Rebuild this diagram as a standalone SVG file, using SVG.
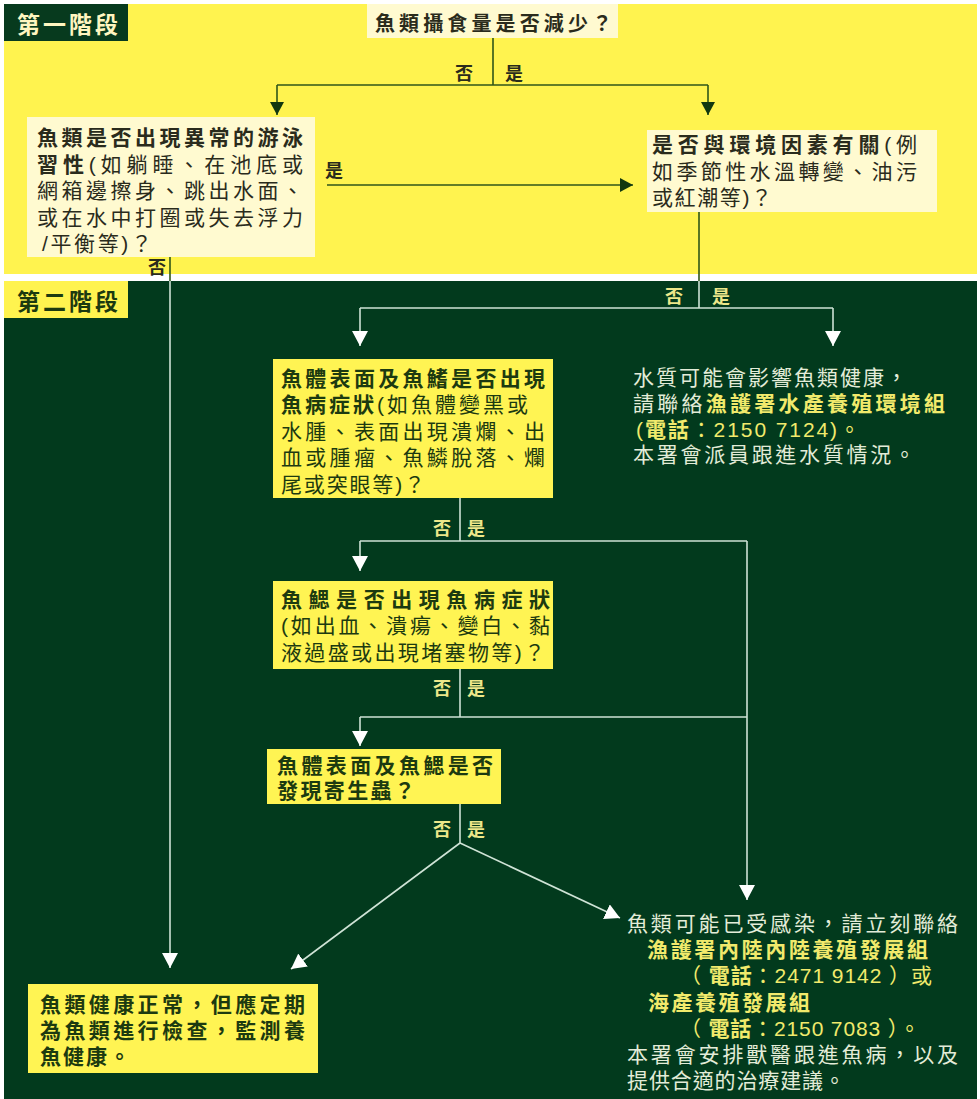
<svg xmlns="http://www.w3.org/2000/svg" width="980" height="1099" viewBox="0 0 980 1099">
<style>
.t{font-family:"Liberation Sans","Noto Sans CJK TC",sans-serif;font-size:21px;}
.b{font-weight:bold;}
.dk{fill:#2a2b1c;}
.gk{fill:#1c3a10;}
.pl{fill:#e3ecd8;}
.yl{fill:#f1ea6c;}
.lbly{font-family:"Liberation Sans","Noto Sans CJK TC",sans-serif;font-size:18px;font-weight:bold;fill:#2a2b1c;}
.lbld{font-family:"Liberation Sans","Noto Sans CJK TC",sans-serif;font-size:18px;font-weight:bold;fill:#ece78a;}
.cd{stroke:#2f5518;stroke-width:1.6;fill:none;}
.cw{stroke:#cfe3d6;stroke-width:1.6;fill:none;}
.cream{fill:#fffad0;}
.ybox{fill:#fff453;}
</style>
<defs>
<marker id="ad" markerUnits="userSpaceOnUse" markerWidth="14" markerHeight="14" refX="13" refY="7" orient="auto"><path d="M0,0 L13,7 L0,14 z" fill="#12380f"/></marker>
<marker id="aw" markerUnits="userSpaceOnUse" markerWidth="16" markerHeight="16" refX="15" refY="8" orient="auto"><path d="M0,0 L15,8 L0,16 z" fill="#ffffff"/></marker>
</defs>
<rect width="980" height="1099" fill="#ffffff"/>
<rect x="4" y="4" width="973" height="270" fill="#fff34f"/>
<rect x="4" y="281" width="973" height="818" fill="#023a1d"/>

<g id="stage1">
<rect x="4" y="4" width="124" height="37" fill="#073a1e"/>
<text x="17" y="33" class="t b" style="font-size:23px;fill:#fff6c0" textLength="101" lengthAdjust="spacing">第一階段</text>
</g>
<g id="stage2">
<rect x="4" y="281" width="124" height="37" fill="#fff34f"/>
<text x="17" y="310" class="t b" style="font-size:23px;fill:#1c3a10" textLength="101" lengthAdjust="spacing">第二階段</text>
</g>

<g id="connectors">
<path class="cd" d="M493,38 V85"/>
<path class="cd" d="M277,85 H708"/>
<path class="cd" d="M277,85 V115" marker-end="url(#ad)"/>
<path class="cd" d="M708,85 V115" marker-end="url(#ad)"/>
<path class="cd" d="M327,185 H633" marker-end="url(#ad)"/>
<path class="cd" d="M170,245 V281"/>
<path class="cw" d="M170,281 V968" marker-end="url(#aw)"/>
<path class="cd" d="M699,212 V281"/>
<path class="cw" d="M699,281 V308"/>
<path class="cw" d="M360,308 H833"/>
<path class="cw" d="M360,308 V346" marker-end="url(#aw)"/>
<path class="cw" d="M833,308 V346" marker-end="url(#aw)"/>
<path class="cw" d="M460,498 V541"/>
<path class="cw" d="M360,541 H747"/>
<path class="cw" d="M360,541 V571" marker-end="url(#aw)"/>
<path class="cw" d="M747,541 V900" marker-end="url(#aw)"/>
<path class="cw" d="M460,669 V717"/>
<path class="cw" d="M360,717 H747"/>
<path class="cw" d="M360,717 V746" marker-end="url(#aw)"/>
<path class="cw" d="M460,804 V843"/>
<path class="cw" d="M460,843 L291,969" marker-end="url(#aw)"/>
<path class="cw" d="M460,843 L620,918" marker-end="url(#aw)"/>
<text x="455" y="80" class="lbly">否</text>
<text x="505" y="80" class="lbly">是</text>
<text x="325" y="177" class="lbly">是</text>
<text x="148" y="274" class="lbly">否</text>
<text x="665" y="303" class="lbld">否</text>
<text x="712" y="303" class="lbld">是</text>
<text x="433" y="535" class="lbld">否</text>
<text x="467" y="535" class="lbld">是</text>
<text x="433" y="695" class="lbld">否</text>
<text x="467" y="695" class="lbld">是</text>
<text x="433" y="836" class="lbld">否</text>
<text x="467" y="836" class="lbld">是</text>
</g>

<g id="q-intake">
<rect x="367" y="4" width="251" height="34" class="cream"/>
<text x="375" y="31" class="t b dk" style="font-size:20px" textLength="237" lengthAdjust="spacing">魚類攝食量是否減少？</text>
</g>

<g id="q-swim">
<rect x="27" y="117" width="288" height="140" class="cream"/>
<text x="37" y="145" class="t b dk" textLength="266" lengthAdjust="spacing">魚類是否出現異常的游泳</text>
<text x="37" y="172" class="t dk" textLength="266" lengthAdjust="spacing"><tspan class="b">習性</tspan>(如躺睡、在池底或</text>
<text x="37" y="198" class="t dk" textLength="266" lengthAdjust="spacing">網箱邊擦身、跳出水面、</text>
<text x="37" y="225" class="t dk" textLength="266" lengthAdjust="spacing">或在水中打圈或失去浮力</text>
<text x="42" y="251" class="t dk" textLength="110" lengthAdjust="spacing">/平衡等)？</text>
</g>

<g id="q-env">
<rect x="647" y="130" width="290" height="82" class="cream"/>
<text x="652" y="152" class="t dk" textLength="265" lengthAdjust="spacing"><tspan class="b">是否與環境因素有關</tspan>(例</text>
<text x="652" y="179" class="t dk" textLength="265" lengthAdjust="spacing">如季節性水溫轉變、油污</text>
<text x="652" y="205" class="t dk" textLength="120" lengthAdjust="spacing">或紅潮等)？</text>
</g>

<g id="water-quality">
<text x="633" y="385" class="t pl" textLength="274" lengthAdjust="spacing">水質可能會影響魚類健康，</text>
<text x="633" y="411" class="t pl" textLength="312" lengthAdjust="spacing">請聯絡<tspan class="b yl">漁護署水產養殖環境組</tspan></text>
<text x="636" y="437" class="t yl" textLength="224" lengthAdjust="spacing">(<tspan class="b">電話</tspan>：2150 7124)。</text>
<text x="633" y="462" class="t pl" textLength="282" lengthAdjust="spacing">本署會派員跟進水質情況。</text>
</g>

<g id="q-skin">
<rect x="273" y="359" width="280" height="139" class="ybox"/>
<text x="281" y="386" class="t b gk" textLength="264" lengthAdjust="spacing">魚體表面及魚鰭是否出現</text>
<text x="281" y="412" class="t gk" textLength="247" lengthAdjust="spacing"><tspan class="b">魚病症狀</tspan>(如魚體變黑或</text>
<text x="281" y="439" class="t gk" textLength="264" lengthAdjust="spacing">水腫、表面出現潰爛、出</text>
<text x="281" y="465" class="t gk" textLength="264" lengthAdjust="spacing">血或腫瘤、魚鱗脫落、爛</text>
<text x="281" y="492" class="t gk" textLength="144" lengthAdjust="spacing">尾或突眼等)？</text>
</g>

<g id="q-gill">
<rect x="273" y="581" width="280" height="88" class="ybox"/>
<text x="281" y="607" class="t b gk" textLength="269" lengthAdjust="spacing">魚鰓是否出現魚病症狀</text>
<text x="281" y="633" class="t gk" textLength="269" lengthAdjust="spacing">(如出血、潰瘍、變白、黏</text>
<text x="281" y="660" class="t gk" textLength="264" lengthAdjust="spacing">液過盛或出現堵塞物等)？</text>
</g>

<g id="q-parasite">
<rect x="267" y="749" width="234" height="55" class="ybox"/>
<text x="277" y="773" class="t b gk" textLength="216" lengthAdjust="spacing">魚體表面及魚鰓是否</text>
<text x="277" y="798" class="t b gk" textLength="138" lengthAdjust="spacing">發現寄生蟲？</text>
</g>

<g id="healthy">
<rect x="28" y="984" width="290" height="89" class="ybox"/>
<text x="40" y="1012" class="t b gk" textLength="265" lengthAdjust="spacing">魚類健康正常，但應定期</text>
<text x="40" y="1038" class="t b gk" textLength="265" lengthAdjust="spacing">為魚類進行檢查，監測養</text>
<text x="40" y="1064" class="t b gk" textLength="90" lengthAdjust="spacing">魚健康。</text>
</g>

<g id="infected">
<text x="627" y="931" class="t pl" textLength="331" lengthAdjust="spacing">魚類可能已受感染，請立刻聯絡</text>
<text x="647" y="957" class="t b yl" textLength="281" lengthAdjust="spacing">漁護署內陸內陸養殖發展組</text>
<text x="680" y="983" class="t yl" textLength="252" lengthAdjust="spacing">（ <tspan class="b">電話</tspan>：2471 9142 ）或</text>
<text x="648" y="1010" class="t b yl" textLength="162" lengthAdjust="spacing">海產養殖發展組</text>
<text x="680" y="1036" class="t yl" textLength="240" lengthAdjust="spacing">（ <tspan class="b">電話</tspan>：2150 7083 ）。</text>
<text x="627" y="1062" class="t pl" textLength="331" lengthAdjust="spacing">本署會安排獸醫跟進魚病，以及</text>
<text x="627" y="1088" class="t pl" textLength="218" lengthAdjust="spacing">提供合適的治療建議。</text>
</g>
</svg>
